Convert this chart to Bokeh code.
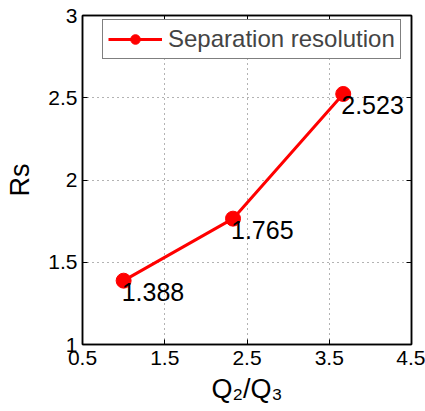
from bokeh.plotting import figure
from bokeh.models import (LinearAxis, Range1d, FixedTicker, Legend, LegendItem,
                          ColumnDataSource, CustomJSTickFormatter)
from bokeh.embed import file_html
from bokeh.resources import INLINE

ratio = [1.0, 2.33, 3.67]
rs = [1.388, 1.765, 2.523]
rs_labels = ["1.388", "1.765", "2.523"]
x_ticks = [0.5, 1.5, 2.5, 3.5, 4.5]
y_ticks = [1, 1.5, 2, 2.5, 3]
series_name = "Separation resolution"

FONT = "Liberation Sans"

p = figure(width=425, height=411, output_backend="svg", toolbar_location=None,
           x_range=Range1d(0.5, 4.5), y_range=Range1d(1, 3),
           min_border_left=82, min_border_right=14, min_border_top=15, min_border_bottom=67)
p.background_fill_color = "white"
p.border_fill_color = "white"
p.outline_line_color = "black"
p.outline_line_width = 1.5

for ax in (p.xaxis[0], p.yaxis[0]):
    ax.major_tick_in = 5
    ax.major_tick_out = 0
    ax.minor_tick_in = 0
    ax.minor_tick_out = 0
    ax.axis_line_color = "black"
    ax.axis_line_width = 1.5
    ax.major_label_text_font = FONT
    ax.major_label_text_font_size = "21px"
    ax.major_label_text_color = "black"
    ax.axis_label_text_font = FONT
    ax.axis_label_text_font_size = "27px"
    ax.axis_label_text_font_style = "normal"
    ax.axis_label_text_color = "black"

p.xaxis[0].ticker = FixedTicker(ticks=x_ticks)
p.yaxis[0].ticker = FixedTicker(ticks=y_ticks)
p.xaxis[0].axis_label = "Q₂/Q₃"
p.yaxis[0].axis_label = "Rs"
p.xaxis[0].major_label_standoff = 6
p.yaxis[0].major_label_standoff = 5
p.xaxis[0].axis_label_standoff = 6
p.yaxis[0].axis_label_standoff = 10

top = LinearAxis(ticker=FixedTicker(ticks=x_ticks), major_tick_in=5, major_tick_out=0,
                 minor_tick_in=0, minor_tick_out=0,
                 formatter=CustomJSTickFormatter(code="return ''"),
                 major_label_standoff=0, axis_line_width=1.5)
right = LinearAxis(ticker=FixedTicker(ticks=y_ticks), major_tick_in=5, major_tick_out=0,
                   minor_tick_in=0, minor_tick_out=0,
                   formatter=CustomJSTickFormatter(code="return ''"),
                   major_label_standoff=0, axis_line_width=1.5)
p.add_layout(top, "above")
p.add_layout(right, "right")

p.xgrid.ticker = FixedTicker(ticks=x_ticks)
p.ygrid.ticker = FixedTicker(ticks=y_ticks)
for g in (p.xgrid, p.ygrid):
    g.grid_line_color = "black"
    g.grid_line_width = 1
    g.grid_line_dash = "1 4"
    g.grid_line_alpha = 0.6

src = ColumnDataSource(dict(x=ratio, y=rs, t=rs_labels))
ln = p.line("x", "y", source=src, line_color="red", line_width=3)
sc = p.scatter("x", "y", source=src, size=15, fill_color="red", line_color="red")
p.text("x", "y", text="t", source=src, text_font={"value": FONT}, text_font_size="25px",
       text_color="black", text_baseline="top", text_align="left", x_offset=-2, y_offset=2)

legend = Legend(items=[LegendItem(label=series_name, renderers=[ln, sc])],
                location=(20, 285), label_text_font=FONT, label_text_font_size="24px",
                border_line_color="black", border_line_width=1, background_fill_alpha=1,
                glyph_width=54, glyph_height=24, label_standoff=6, padding=5, margin=0,
                spacing=0, label_height=24)
p.add_layout(legend, "center")

open("out.html", "w").write(file_html(p, INLINE))
